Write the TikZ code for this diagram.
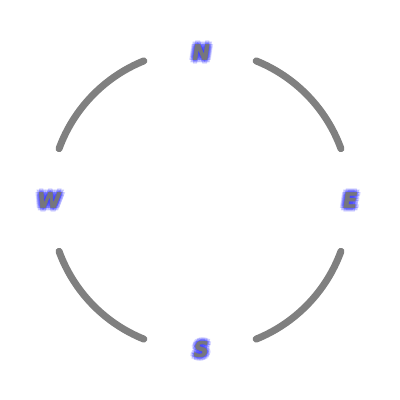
\documentclass[tikz,border=0pt]{standalone}
\usepackage{fontspec}
\newfontfamily\labfont[FakeBold=2.5,FakeSlant=0.15]{DejaVu Sans Bold}
\definecolor{arcgray}{RGB}{128,128,128}
\definecolor{lettergray}{RGB}{118,118,125}
\definecolor{glowblue}{RGB}{60,60,255}
\tikzset{
  arcline/.style={draw=arcgray, line width=5pt, line cap=round},
  dirlabel/.style={font=\labfont\fontsize{15}{15}\selectfont, text=lettergray, inner sep=0pt},
  glowlabel/.style={font=\labfont\fontsize{15}{15}\selectfont, text=glowblue, inner sep=0pt, opacity=0.14},
}
\begin{document}
\begin{tikzpicture}[x=0.025cm,y=0.025cm]
\useasboundingbox (0,0) rectangle (400,400);
\coordinate (C) at (200,200);
\foreach \a in {20,112,200,292}{
  \draw[arcline] ([shift={(\a:150)}]C) arc[start angle=\a, end angle=\a+48, radius=150];
}
\foreach \r in {1.3,2.6,3.6}{
  \foreach \t in {0,45,...,315}{
    \node[glowlabel] at ([shift={(\t:\r)}]200,348) {N};
    \node[glowlabel] at ([shift={(\t:\r)}]349,200) {E};
    \node[glowlabel] at ([shift={(\t:\r)}]200,51) {S};
    \node[glowlabel] at ([shift={(\t:\r)}]48,200) {W};
  }
}
\node[dirlabel] (N) at (200,348) {N};
\node[dirlabel] (E) at (349,200) {E};
\node[dirlabel] (S) at (200,51) {S};
\node[dirlabel] (W) at (48,200) {W};
\end{tikzpicture}
\end{document}
